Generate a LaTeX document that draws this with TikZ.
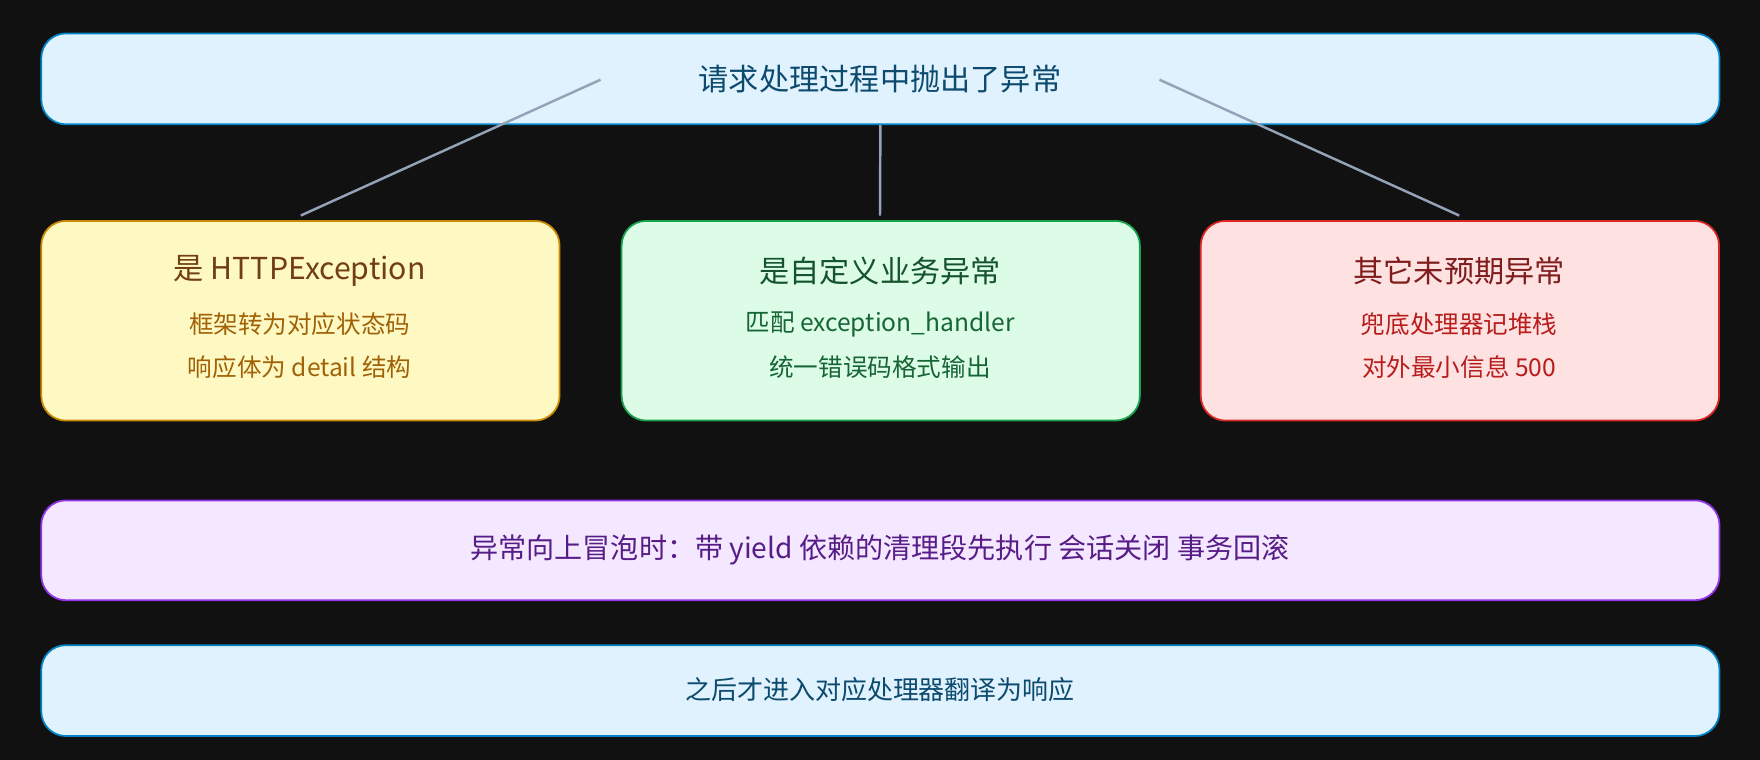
\documentclass[tikz,border=0pt]{standalone}
\usepackage{fontspec}
\setmainfont{Noto Sans CJK SC}
\definecolor{bg}{HTML}{111111}
\definecolor{skyfill}{HTML}{E0F2FE}\definecolor{skydraw}{HTML}{0284C7}\definecolor{skytext}{HTML}{0C4A6E}
\definecolor{yelfill}{HTML}{FEF9C3}\definecolor{yeldraw}{HTML}{CA8A04}\definecolor{yeltitle}{HTML}{713F12}\definecolor{yeltext}{HTML}{A16207}
\definecolor{grnfill}{HTML}{DCFCE7}\definecolor{grndraw}{HTML}{16A34A}\definecolor{grntitle}{HTML}{14532D}\definecolor{grntext}{HTML}{166534}
\definecolor{redfill}{HTML}{FEE2E2}\definecolor{reddraw}{HTML}{DC2626}\definecolor{redtitle}{HTML}{7F1D1D}\definecolor{redtext}{HTML}{B91C1C}
\definecolor{purfill}{HTML}{F3E8FF}\definecolor{purdraw}{HTML}{9333EA}\definecolor{purtext}{HTML}{581C87}
\definecolor{link}{HTML}{94A3B8}
\tikzset{
  box/.style={rectangle,rounded corners=7pt,line width=0.5pt,anchor=north west,inner sep=0pt},
  title/.style={font=\fontsize{8.6}{10}\selectfont},
  body/.style={font=\fontsize{7}{9}\selectfont},
  link/.style={draw=link,line width=0.7pt}
}
\begin{document}
\begin{tikzpicture}[x=0.011224cm,y=-0.011224cm]
  \fill[bg] (0,0) rectangle (1568,677);
  \useasboundingbox (0,0) rectangle (1568,677);
  \def\card#1#2#3#4#5#6#7#8{
    \node[box,fill=#1fill,draw=#1draw,minimum width=462*0.11224mm,minimum height=178*0.11224mm] (#2) at (#3,196){};
    \node[title,text=#1title] (#2t) at (#3+231,241){#4};
    \node[body,text=#1text] (#2a) at (#3+231,289){#5};
    \node[body,text=#1text] (#2b) at (#3+231,327){#6};
  }

  %top
  \node[box,fill=skyfill,draw=skydraw,minimum width=1496*0.11224mm,minimum height=81*0.11224mm] (start) at (36,29){};
  \node[title,text=skytext] (startt) at (784,70){请求处理过程中抛出了异常};

  %branches
  \card{yel}{http}{36}{是 HTTPException}{框架转为对应状态码}{响应体为 detail 结构}{}{}
  \card{grn}{custom}{553}{是自定义业务异常}{匹配 exception\_handler}{统一错误码格式输出}{}{}
  \card{red}{other}{1069}{其它未预期异常}{兜底处理器记堆栈}{对外最小信息 500}{}{}

  \coordinate (la) at (535,71);
  \coordinate (lb) at (1033,71);
  \coordinate (ha) at (268,192);
  \coordinate (ma) at (784,192);
  \coordinate (oa) at (1300,192);
  \draw[link] (la) -- (ha);
  \draw[link] (start.south) -- (ma);
  \draw[link] (lb) -- (oa);

  %cleanup
  \node[box,fill=purfill,draw=purdraw,minimum width=1496*0.11224mm,minimum height=89*0.11224mm] (bubble) at (36,445){};
  \node[title,font=\fontsize{8}{10}\selectfont,text=purtext] (bubblet) at (784,490){异常向上冒泡时：带 yield 依赖的清理段先执行 会话关闭 事务回滚};

  \node[box,fill=skyfill,draw=skydraw,minimum width=1496*0.11224mm,minimum height=81*0.11224mm] (final) at (36,574){};
  \node[body,font=\fontsize{7.4}{9}\selectfont,text=skytext] (finalt) at (784,614){之后才进入对应处理器翻译为响应};
\end{tikzpicture}
\end{document}
